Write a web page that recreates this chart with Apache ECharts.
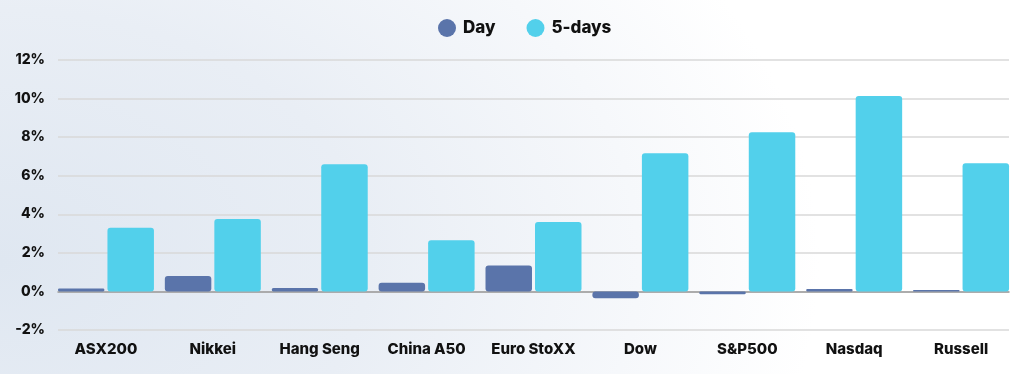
<!DOCTYPE html>
<html>
<head>
<meta charset="utf-8">
<script src="https://cdn.jsdelivr.net/npm/echarts@6/dist/echarts.min.js"></script>
<style>
  html, body { margin: 0; padding: 0; }
  body {
    width: 1024px; height: 374px; overflow: hidden;
    background: radial-gradient(ellipse 80% 150% at 0% 70%, #dfe7f1 0%, #e9eef5 45%, #f6f8fb 78%, #ffffff 100%);
  }
  #chart { width: 1024px; height: 374px; }
</style>
</head>
<body>
<div id="chart"></div>
<script>
const categories = ['ASX200', 'Nikkei', 'Hang Seng', 'China A50', 'Euro StoXX', 'Dow', 'S&P500', 'Nasdaq', 'Russell'];
const dayValues = [0.15, 0.8, 0.18, 0.45, 1.35, -0.35, -0.15, 0.12, 0.07];
const fiveDayValues = [3.3, 3.75, 6.6, 2.65, 3.6, 7.17, 8.26, 10.13, 6.65];
const seriesNames = ['Day', '5-days'];
const yMin = -2, yMax = 12, yStep = 2;

const FONT = 'Inter';
const chart = echarts.init(document.getElementById('chart'), null, { renderer: 'canvas' });
chart.setOption({
  backgroundColor: 'transparent',
  animation: false,
  legend: {
    top: 14, left: 433,
    icon: 'circle', itemWidth: 18, itemHeight: 18, itemGap: 31,
    textStyle: { fontFamily: FONT, fontWeight: 800, fontSize: 17, color: '#111', padding: [0, 0, 0, 2] },
    data: seriesNames
  },
  grid: [
    { left: 58, right: 15, top: 60, bottom: 44 },
    { left: 52.5, right: 9.5, top: 60, bottom: 44 }
  ],
  xAxis: [
    { gridIndex: 0, type: 'value', min: 0, max: 1,
      axisLine: { show: true, onZero: true, lineStyle: { color: '#9a9a9a', width: 1.5 } },
      axisTick: { show: false }, axisLabel: { show: false }, splitLine: { show: false } },
    { gridIndex: 1, type: 'category', data: categories,
      axisLine: { show: false, onZero: false }, axisTick: { show: false },
      axisLabel: { interval: 0, margin: 12, fontFamily: FONT, fontWeight: 800, fontSize: 15, color: '#111' } }
  ],
  yAxis: [
    { gridIndex: 0, type: 'value', min: yMin, max: yMax, interval: yStep,
      axisLine: { show: false }, axisTick: { show: false },
      axisLabel: { margin: 13, formatter: '{value}%', fontFamily: FONT, fontWeight: 800, fontSize: 14, color: '#111' },
      splitLine: { lineStyle: { color: '#d8d8d8', width: 1.5 } } },
    { gridIndex: 1, type: 'value', min: yMin, max: yMax, interval: yStep, show: false,
      splitLine: { show: false } }
  ],
  series: [
    { name: seriesNames[0], type: 'bar', xAxisIndex: 1, yAxisIndex: 1, data: dayValues,
      barGap: '6.5%', barCategoryGap: '10.2%', z: 3,
      itemStyle: { color: '#5a74aa', borderRadius: 3 } },
    { name: seriesNames[1], type: 'bar', xAxisIndex: 1, yAxisIndex: 1, data: fiveDayValues,
      barGap: '6.5%', barCategoryGap: '10.2%', z: 3,
      itemStyle: { color: '#52d0eb', borderRadius: 3 } }
  ]
});
</script>
</body>
</html>
